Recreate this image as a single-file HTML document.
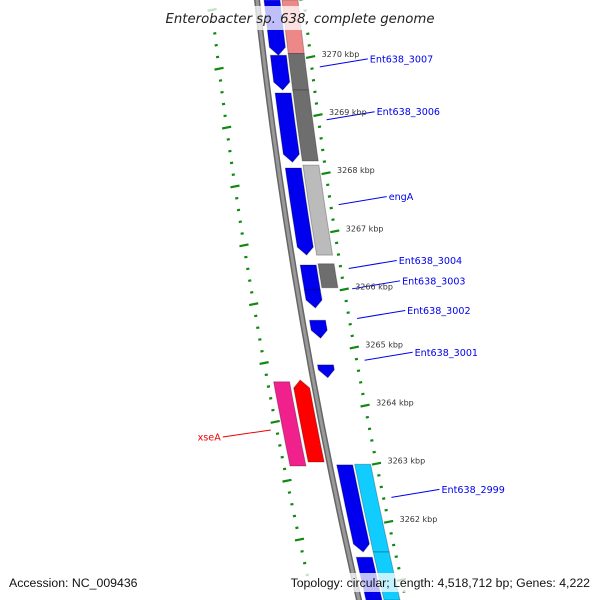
<!DOCTYPE html>
<html><head><meta charset="utf-8"><style>
html,body{margin:0;padding:0;background:#fff;width:600px;height:600px;overflow:hidden;}
svg{display:block;font-family:"DejaVu Sans","Liberation Sans",sans-serif;overflow:hidden;}
</style></head><body>
<svg id="map" width="600" height="600" viewBox="0 0 600 600">
<g id="ticks"></g>
<g id="backbone"></g>
<g id="genes"></g>
<g id="labels"></g>
<g id="ticklabels"></g>
<rect x="162" y="6" width="277" height="24" fill="#fff" opacity="0.75"/>
<text x="300" y="23" text-anchor="middle" font-size="13.3" font-style="italic" fill="#222">Enterobacter sp. 638, complete genome</text>
<rect x="260" y="573" width="333" height="19" fill="#fff" opacity="0.75"/>
<text x="9" y="587" font-size="12.3" fill="#111" font-family="Liberation Sans, sans-serif">Accession: NC_009436</text>
<text x="590" y="587" text-anchor="end" font-size="12.3" fill="#111" font-family="Liberation Sans, sans-serif">Topology: circular; Length: 4,518,712 bp; Genes: 4,222</text>
</svg>
<script>
// data
const geneStart = [3270.98,3270.03,3269.38,3268.09,3266.42,3265.99,3265.47,3264.70,3262.98,3261.39, 3270.98,3270.06,3269.43,3268.14,3266.44, 3262.99,3261.48, 3264.41,3264.44];
const geneEnd   = [3270.03,3269.43,3268.19,3266.59,3265.99,3265.68,3265.16,3264.48,3261.48,3260.60, 3270.06,3269.43,3268.21,3266.59,3266.03, 3261.48,3260.60, 3262.96,3263.03];
const geneTrack = [15,15,15,15,15,15,15,15,15,15, 33,33,33,33,33, 33,33, -32,-13];
const geneColor = ["#0000ee","#0000ee","#0000ee","#0000ee","#0000ee","#0000ee","#0000ee","#0000ee","#0000ee","#0000ee","#ee8888","#6e6e6e","#6e6e6e","#bbbbbb","#6e6e6e","#11ccff","#11ccff","#f0208c","#ff0000"];
const geneArrow = ["down","down","down","down","none","down","down","down","down","none","none","none","none","none","none","none","none","none","up"];
const tickKbp = [3270,3269,3268,3267,3266,3265,3264,3263,3262];
const tickLabels = ["3270 kbp","3269 kbp","3268 kbp","3267 kbp","3266 kbp","3265 kbp","3264 kbp","3263 kbp","3262 kbp"];
const labelNames = ["Ent638_3007","Ent638_3006","engA","Ent638_3004","Ent638_3003","Ent638_3002","Ent638_3001","Ent638_2999","xseA"];
const labelKbp = [3269.83,3268.92,3267.46,3266.36,3266.01,3265.50,3264.78,3262.42,3263.58];

const NS="http://www.w3.org/2000/svg";
function yOf(k){return 57+(3270-k)*58.1;}
function xOf(y){return 257+0.11*y+0.0001*y*y;}
function mk(tag,attrs,parent){const e=document.createElementNS(NS,tag);for(const a in attrs)e.setAttribute(a,attrs[a]);parent.appendChild(e);return e;}

// backbone
const bb=document.getElementById('backbone');
let pts=[];for(let y=-5;y<=605;y+=10)pts.push(xOf(y).toFixed(1)+","+y);
const b1=mk('polyline',{points:pts.join(' '),fill:'none',stroke:'#666','stroke-width':6},bb);


const b2=mk('polyline',{points:pts.join(' '),fill:'none',stroke:'#999','stroke-width':3},bb);



// ticks
const tg=document.getElementById('ticks');
for(let k=3271.0;k>=3260.6;k-=0.2){
  const kr=Math.round(k*10)/10;
  const major=Math.abs(kr-Math.round(kr))<0.01;
  const y=yOf(kr);
  const x=xOf(y)+47;
  const len=major?9:3;
  const t=mk('line',{x1:x-len/2,y1:y+len*0.1,x2:x+len/2,y2:y-len*0.1,stroke:'#118811','stroke-width':2.2},tg);
  
  
  const y2=y+11+y*0.013;
  if(y2>598)continue;
  const x2=xOf(y2)-46;
  const t2=mk('line',{x1:x2-len/2,y1:y2+len*0.1,x2:x2+len/2,y2:y2-len*0.1,stroke:'#118811','stroke-width':2.2},tg);
  
  
}
const tl=document.getElementById('ticklabels');
tickKbp.forEach((k,i)=>{
  const y=yOf(k);
  const t=mk('text',{x:xOf(y)+58,y:y,'font-size':8,fill:'#333'},tl);
  t.textContent=tickLabels[i];
  
  
});

// genes
const gg=document.getElementById('genes');
geneStart.forEach((s,i)=>{
  const ya=yOf(s), yb=Math.min(yOf(geneEnd[i]),600), o=geneTrack[i], w=16;
  const a=geneArrow[i];
  const bodyTop=a==='up'?ya+8:ya, bodyBot=a==='down'?yb-8:yb;
  const L=[],R=[];
  const n=8;
  for(let j=0;j<=n;j++){const y=bodyTop+(bodyBot-bodyTop)*j/n;const c=xOf(y)+o;L.push([c-w/2,y]);R.push([c+w/2,y]);}
  let poly=[];
  if(a==='up'){poly.push([xOf(ya)+o,ya]);}
  poly=poly.concat(R);
  if(a==='down'){poly.push([xOf(yb)+o,yb]);}
  poly=poly.concat(L.reverse());
  const p=mk('polygon',{points:poly.map(q=>q[0].toFixed(1)+","+q[1].toFixed(1)).join(' '),fill:geneColor[i],stroke:'rgba(0,0,0,0.25)','stroke-width':1},gg);
  
  
});

// labels
const lg=document.getElementById('labels');
labelNames.forEach((nm,i)=>{
  const y=yOf(labelKbp[i]);
  const left=nm==='xseA';
  const col=left?'#ee0000':'#0000ee';
  const x0=left?xOf(y)-52:xOf(y)+55;
  const x1=left?x0-48:x0+48;
  const y1=left?y+7:y-8;
  const ln=mk('line',{x1:x0,y1:y,x2:x1,y2:y1,stroke:col,'stroke-width':1},lg);
  
  
  const t=mk('text',{x:left?x1-2:x1+2,y:y1+3.5,'font-size':9.6,fill:col,'text-anchor':left?'end':'start'},lg);
  t.textContent=nm;
  
  
});
</script>
</body></html>
